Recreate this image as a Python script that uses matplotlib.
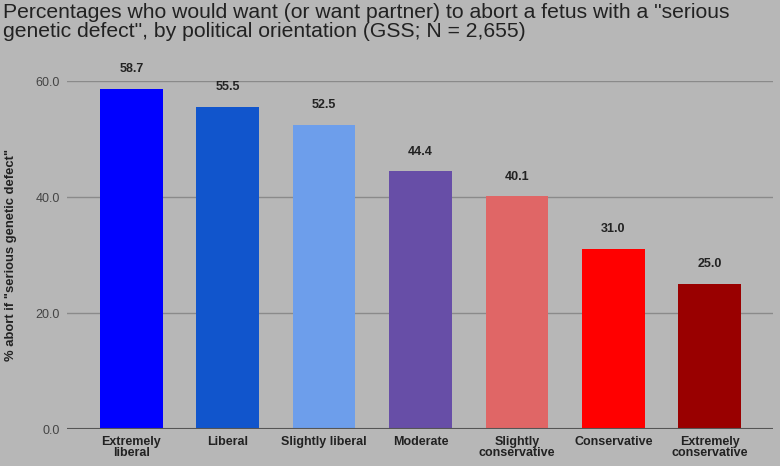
import matplotlib
matplotlib.use("Agg")
import matplotlib.pyplot as plt

categories = ["Extremely\nliberal", "Liberal", "Slightly liberal", "Moderate",
              "Slightly\nconservative", "Conservative", "Extremely\nconservative"]
values = [58.7, 55.5, 52.5, 44.4, 40.1, 31.0, 25.0]
colors = ["#0000ff", "#1155cc", "#6d9eeb", "#674ea7", "#e06666", "#ff0000", "#990000"]
yticks = [0, 20, 40, 60]

plt.rcParams['font.family'] = ['Liberation Sans', 'DejaVu Sans']
bg = "#b7b7b7"
W, H = 780, 466
fig = plt.figure(figsize=(W/100, H/100), dpi=100, facecolor=bg)
ax = fig.add_axes([67/W, (H-429)/H, (773-67)/W, (429-81)/H], facecolor=bg)

x = list(range(len(values)))
bars = ax.bar(x, values, width=0.65, color=colors, zorder=3)
ax.set_xlim(-0.667, 6.657)
ax.set_ylim(0, 60)
ax.set_yticks(yticks)
ax.set_yticklabels([f"{v:.1f}" for v in yticks], color="#444444", fontsize=9)
ax.set_xticks(x)
ax.set_xticklabels(categories, fontsize=9, fontweight='bold', color="#222222", linespacing=0.85)
ax.tick_params(axis='both', length=0)
ax.tick_params(axis='y', pad=5)
ax.tick_params(axis='x', pad=5)
for s in ax.spines.values():
    s.set_visible(False)
ax.grid(axis='y', color="#8a8a8a", linewidth=1, zorder=0)
ax.axhline(0, color="#555555", linewidth=1.5, zorder=4)

for xi, v in zip(x, values):
    ax.annotate(f"{v:.1f}", (xi, v), xytext=(0, 10), textcoords='offset points',
                ha='center', va='bottom', fontsize=9, fontweight='bold', color="#222222",
                clip_on=False, annotation_clip=False)

ax.set_ylabel('% abort if "serious genetic defect"', fontsize=9.4, fontweight='bold', color="#222222")
ax.yaxis.set_label_coords(-(67-17)/(773-67), (429-255)/(429-81))

fig.text(3/W, 1-3/H, 'Percentages who would want (or want partner) to abort a fetus with a "serious\ngenetic defect", by political orientation (GSS; N = 2,655)',
         ha='left', va='top', fontsize=15.2, color="#222222", linespacing=1.0)

fig.savefig("out.png", dpi=100, facecolor=bg)
